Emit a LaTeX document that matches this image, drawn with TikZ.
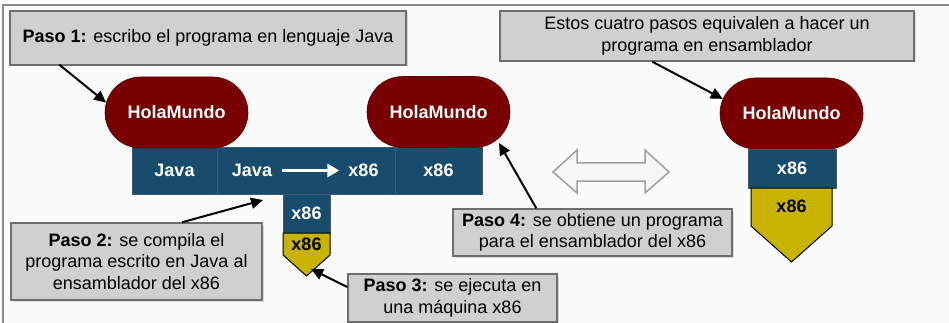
\documentclass[tikz,border=0pt]{standalone}
\usepackage{fontspec}
\setmainfont{Liberation Sans}
\usetikzlibrary{arrows.meta,shapes.misc,calc,shadows}
\definecolor{bgc}{HTML}{FBFBFB}
\definecolor{framec}{HTML}{8A8A8A}
\definecolor{boxfill}{HTML}{D0D0D0}
\definecolor{boxline}{HTML}{6E6E6E}
\definecolor{holared}{HTML}{780000}
\definecolor{barblue}{HTML}{184C6C}
\definecolor{barline}{HTML}{3E5A6C}
\definecolor{yel}{HTML}{C8B400}
\definecolor{arrfill}{HTML}{F6F6F6}
\begin{document}
\begin{tikzpicture}[x=1pt,y=-1pt,
  txt/.style={font=\fontsize{18}{21.6}\selectfont},
  callout/.style={txt, rectangle, fill=boxfill, draw=boxline, line width=1.4pt,
    align=center, inner sep=0pt,
    drop shadow={shadow xshift=1.5pt,shadow yshift=-1.5pt,opacity=0.25}},
  hola/.style={rounded rectangle, fill=holared, draw=holared!80!black, line width=0.6pt,
    minimum width=143pt, minimum height=71pt, inner sep=0pt,
    text=white, font=\fontsize{18}{21.6}\selectfont\bfseries},
  bluecell/.style={rectangle, fill=barblue, draw=barline, line width=0.8pt, inner sep=0pt,
    text=white, font=\fontsize{18}{21.6}\selectfont\bfseries},
  btxt/.style={text=white, font=\fontsize{18}{21.6}\selectfont\bfseries, inner sep=0pt},
  ytxt/.style={text=black, font=\fontsize{18}{21.6}\selectfont\bfseries, inner sep=0pt},
  yshape/.style={fill=yel, draw=black, line width=1pt, line join=miter},
  pointer/.style={draw=black, line width=2pt, -{Triangle[length=12pt,width=11pt]}},
  whitearrow/.style={draw=white, line width=3pt, -{Triangle[length=12pt,width=13pt]}}
]
\path[use as bounding box, fill=bgc] (0,0) rectangle (949,323);
\draw[framec, line width=1.6pt] (3,323) -- (3,5) -- (949,5);

% callout boxes
\node[callout, minimum width=396pt, minimum height=54pt] (b1) at (208,38)
  {\textbf{Paso 1:} escribo el programa en lenguaje Java};
\node[callout, minimum width=414pt, minimum height=50pt] (b5) at (707,36)
  {Estos cuatro pasos equivalen a hacer un\\programa en ensamblador};
\node[callout, minimum width=251pt, minimum height=77pt] (b2) at (136.5,261.5)
  {\textbf{Paso 2:} se compila el\\programa escrito en Java al\\ensamblador del x86};
\node[callout, minimum width=209pt, minimum height=48pt] (b3) at (452.5,298)
  {\textbf{Paso 3:} se ejecuta en\\una máquina x86};
\node[callout, minimum width=279pt, minimum height=47pt] (b4) at (592.5,232.5)
  {\textbf{Paso 4:} se obtiene un programa\\para el ensamblador del x86};

% blue bar
\node[bluecell, minimum width=85pt, minimum height=47pt] (c1) at (174.5,170.5) {Java};
\node[bluecell, minimum width=178pt, minimum height=47pt] (c2) at (306,170.5) {};
\node[bluecell, minimum width=87pt, minimum height=47pt] (c3) at (438.5,170.5) {x86};
\node[btxt] (jv) at (252,170.5) {Java};
\node[btxt] (xa) at (363.5,170.5) {x86};
\draw[whitearrow] ($(jv.east)+(10,0)$) -- ($(xa.west)+(-9,0)$);

% small stack
\node[bluecell, minimum width=47pt, minimum height=39pt] (s1) at (306.5,213.5) {x86};
\draw[yshape] (283,233) -- (330,233) -- (330,255) -- (306.5,276) -- (283,255) -- cycle;
\node[ytxt] (s2) at (306.5,244) {x86};
\coordinate (s2tip) at (306.5,276);

% HolaMundo nodes
\node[hola] (h1) at (176.5,112.5) {HolaMundo};
\node[hola] (h2) at (438.5,112) {HolaMundo};
\node[hola] (h3) at (791.5,113.5) {HolaMundo};

% right stack
\node[bluecell, minimum width=88pt, minimum height=39pt] (r1) at (792,168.5) {x86};
\draw[yshape] (751,188) -- (832,188) -- (832,226) -- (791.5,262) -- (751,226) -- cycle;
\node[ytxt] (r2) at (791.5,206) {x86};

% double arrow
\draw[fill=arrfill, draw=gray!75, line width=1.5pt, line join=miter]
  (553,172) -- (577,150) -- (577,163) -- (645,163) -- (645,150) -- (669,172)
  -- (645,193) -- (645,181) -- (577,181) -- (577,193) -- cycle;

% pointers
\coordinate (a2end) at (263,200);
\coordinate (a3end) at (311,269);
\coordinate (a4end) at (499,143);
\draw[pointer] ($(b1.south west)+(50,-1)$) -- (h1.172);
\draw[pointer] ($(b2.north)+(45.5,0)$) -- (a2end);
\draw[pointer] ($(b3.west)+(0,-11)$) -- (a3end);
\draw[pointer] ($(b4.north west)+(84,0)$) -- (a4end);
\draw[pointer] ($(b5.south west)+(153,0)$) -- (h3.168);
\end{tikzpicture}
\end{document}
